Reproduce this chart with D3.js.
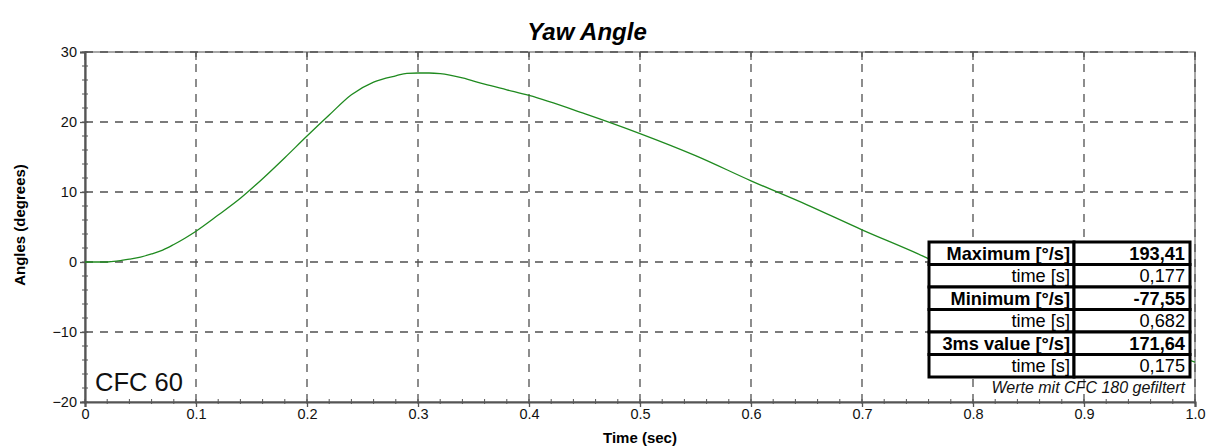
<!DOCTYPE html>
<html>
<head>
<meta charset="utf-8">
<script src="https://cdn.jsdelivr.net/npm/d3@7/dist/d3.min.js"></script>
<style>
  html, body { margin: 0; padding: 0; background: #fff; }
  svg { display: block; font-family: "Liberation Sans", Arial, sans-serif; }
</style>
</head>
<body>
<svg id="chart" width="1210" height="448"></svg>
<script>
// ---- data ----
const timeSec = [0, 0.02, 0.03, 0.04, 0.05, 0.06, 0.07, 0.08, 0.09, 0.1, 0.12, 0.14, 0.16, 0.18, 0.2, 0.22, 0.24, 0.26, 0.28, 0.29, 0.3, 0.31, 0.32, 0.34, 0.36, 0.38, 0.4, 0.45, 0.5, 0.55, 0.6, 0.65, 0.7, 0.75, 0.8, 0.85, 0.9, 0.95, 1.0];
const yawDeg  = [0, 0, 0.15, 0.4, 0.7, 1.15, 1.7, 2.5, 3.4, 4.4, 6.7, 9.1, 11.9, 14.9, 18.0, 21.0, 23.9, 25.7, 26.6, 26.95, 27.0, 27.0, 26.9, 26.3, 25.4, 24.6, 23.8, 21.2, 18.35, 15.2, 11.6, 8.2, 4.6, 1.2, -2.5, -5.6, -8.6, -11.5, -14.3];
const xTicks = [0, 0.1, 0.2, 0.3, 0.4, 0.5, 0.6, 0.7, 0.8, 0.9, 1.0];
const xTickLabels = ["0", "0.1", "0.2", "0.3", "0.4", "0.5", "0.6", "0.7", "0.8", "0.9", "1.0"];
const yTicks = [-20, -10, 0, 10, 20, 30];
const tableLabels = ["Maximum [°/s]", "time [s]", "Minimum [°/s]", "time [s]", "3ms value [°/s]", "time [s]"];
const tableValues = ["193,41", "0,177", "-77,55", "0,682", "171,64", "0,175"];
const tableBold   = [true, false, true, false, true, false];
const titleText = "Yaw Angle";
const xTitle = "Time (sec)";
const yTitle = "Angles (degrees)";
const cfcText = "CFC 60";
const noteText = "Werte mit CFC 180 gefiltert";

// ---- layout ----
const svg = d3.select("#chart");
const L = 85, R = 1195, T = 52, B = 402;
const x = d3.scaleLinear().domain([0, 1]).range([L, R]);
const y = d3.scaleLinear().domain([-20, 30]).range([B, T]);

// frame (top/right light)
svg.append("rect").attr("x", L).attr("y", T).attr("width", R - L).attr("height", B - T)
  .attr("fill", "none").attr("stroke", "#8a8a8a").attr("stroke-width", 1.5);

// grid
const grid = svg.append("g");
grid.selectAll("line.h").data(yTicks.filter(d => d > -20)).join("line")
  .attr("x1", L).attr("x2", R).attr("y1", d => y(d)).attr("y2", d => y(d))
  .attr("stroke", "#505050").attr("stroke-width", 1.3).attr("stroke-dasharray", "8,7");
grid.selectAll("line.v").data(xTicks.filter(d => d > 0)).join("line")
  .attr("y1", B).attr("y2", T).attr("x1", d => x(d)).attr("x2", d => x(d))
  .attr("stroke", "#505050").attr("stroke-width", 1.3).attr("stroke-dasharray", "8,7");

// minor ticks
const yMinor = d3.range(-20, 30.001, 2);
svg.append("g").selectAll("line").data(yMinor).join("line")
  .attr("x1", L - 3).attr("x2", L + 3).attr("y1", d => y(d)).attr("y2", d => y(d))
  .attr("stroke", "#555").attr("stroke-width", 1);
const xMinor = d3.range(0, 1.0001, 0.02);
svg.append("g").selectAll("line").data(xMinor).join("line")
  .attr("x1", d => x(d)).attr("x2", d => x(d)).attr("y1", B - 3).attr("y2", B + 2)
  .attr("stroke", "#555").attr("stroke-width", 1);
// top ticks
svg.append("g").selectAll("line").data(xTicks).join("line")
  .attr("x1", d => x(d)).attr("x2", d => x(d)).attr("y1", T).attr("y2", T + 8)
  .attr("stroke", "#555").attr("stroke-width", 1.3);

// axes
const yAxis = d3.axisLeft(y).tickValues(yTicks).tickSize(5).tickPadding(3).tickFormat(d3.format("d"));
const gy = svg.append("g").attr("transform", `translate(${L},0)`).call(yAxis);
const xAxis = d3.axisBottom(x).tickValues(xTicks).tickSize(5).tickPadding(2).tickFormat((d, i) => xTickLabels[i]);
const gx = svg.append("g").attr("transform", `translate(0,${B})`).call(xAxis);
[gx, gy].forEach(g => {
  g.select(".domain").attr("stroke", "#555").attr("stroke-width", 2.2);
  g.selectAll(".tick line").attr("stroke", "#555").attr("stroke-width", 1.3);
  g.selectAll(".tick text").attr("fill", "#111").attr("font-size", 14.5)
    .attr("font-family", "'Liberation Sans', Arial, sans-serif");
});

// curve
const line = d3.line().x((d, i) => x(timeSec[i])).y(d => y(d)).curve(d3.curveMonotoneX);
svg.append("path").datum(yawDeg).attr("d", line)
  .attr("fill", "none").attr("stroke", "#1f8a1f").attr("stroke-width", 1.3);

// titles
svg.append("text").attr("x", 587).attr("y", 40).attr("text-anchor", "middle")
  .attr("font-size", 24).attr("font-weight", "bold").attr("font-style", "italic").text(titleText);
svg.append("text").attr("x", 640).attr("y", 443).attr("text-anchor", "middle")
  .attr("font-size", 15).attr("font-weight", "bold").text(xTitle);
svg.append("text").attr("transform", "translate(25,225) rotate(-90)").attr("text-anchor", "middle")
  .attr("font-size", 15).attr("font-weight", "bold").text(yTitle);
svg.append("text").attr("x", 95).attr("y", 391).attr("font-size", 25.5).attr("fill", "#111").text(cfcText);

// table
const tX0 = 929, tX1 = 1074, tX2 = 1190, tY0 = 242, rowH = 22.5;
const tbl = svg.append("g");
tbl.append("rect").attr("x", tX0).attr("y", tY0).attr("width", tX2 - tX0).attr("height", rowH * tableLabels.length)
  .attr("fill", "#fff");
tableLabels.forEach((lab, i) => {
  const ry = tY0 + i * rowH;
  tbl.append("rect").attr("x", tX0).attr("y", ry).attr("width", tX1 - tX0).attr("height", rowH)
    .attr("fill", "#fff").attr("stroke", "#000").attr("stroke-width", 3);
  tbl.append("rect").attr("x", tX1).attr("y", ry).attr("width", tX2 - tX1).attr("height", rowH)
    .attr("fill", "#fff").attr("stroke", "#000").attr("stroke-width", 3);
  tbl.append("text").attr("x", tX1 - 4).attr("y", ry + 17.5).attr("text-anchor", "end")
    .attr("font-size", 18.2).attr("font-weight", tableBold[i] ? "bold" : "normal").text(lab);
  tbl.append("text").attr("x", tX2 - 5).attr("y", ry + 17.5).attr("text-anchor", "end")
    .attr("font-size", 18.2).attr("font-weight", tableBold[i] ? "bold" : "normal").text(tableValues[i]);
});
svg.append("text").attr("x", 1185).attr("y", 393).attr("text-anchor", "end")
  .attr("font-size", 16).attr("font-style", "italic").attr("fill", "#111").text(noteText);
</script>
</body>
</html>
